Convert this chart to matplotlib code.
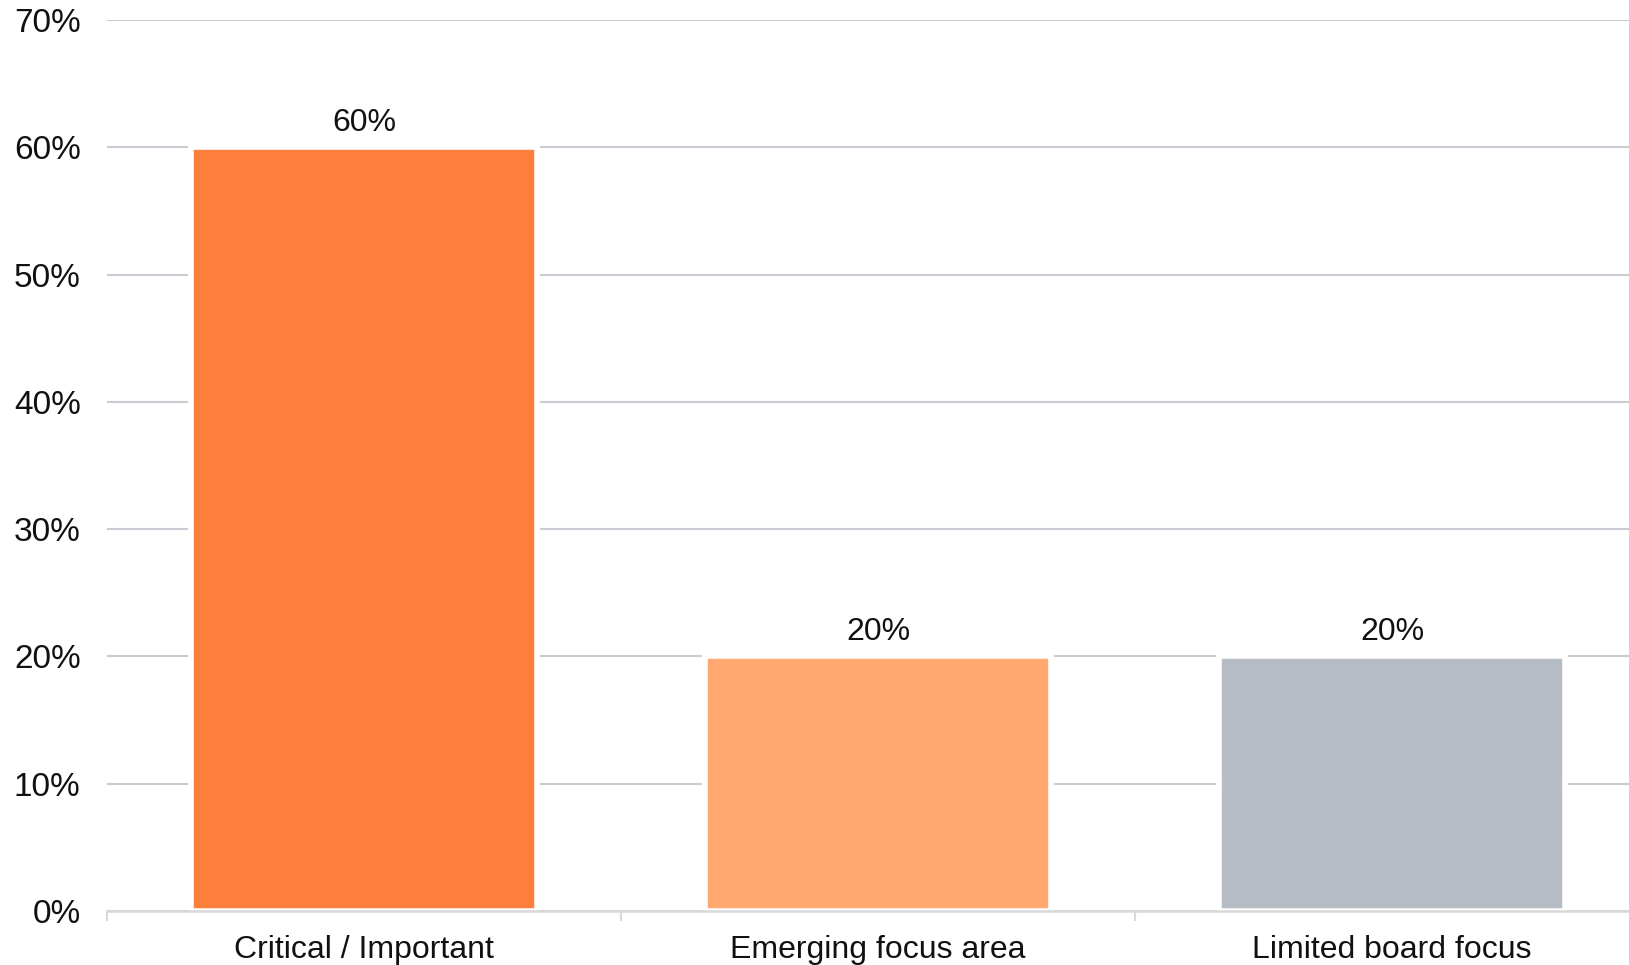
import matplotlib.pyplot as plt
from matplotlib.ticker import PercentFormatter, FixedLocator

categories = ['Critical / Important', 'Emerging focus area', 'Limited board focus']
shares = [0.60, 0.20, 0.20]
bar_colors = ['#FE7E3C', '#FFA970', '#B6BCC4']
y_ticks = [0.0, 0.1, 0.2, 0.3, 0.4, 0.5, 0.6, 0.7]

plt.rcParams['font.family'] = ['Liberation Sans', 'DejaVu Sans']

fig = plt.figure(figsize=(16.29, 9.65), dpi=100)
ax = fig.add_axes([0.0657, 0.056, 0.9466, 0.9233])

x = range(len(categories))
bars = ax.bar(x, shares, width=0.672, color=bar_colors,
              edgecolor='white', linewidth=4, zorder=3)
ax.bar_label(bars, labels=[f'{v:.0%}' for v in shares], padding=7,
             fontsize=23, color='#111111')

ax.set_xlim(-0.5, 2.5)
ax.set_ylim(0, 0.70)
ax.set_yticks(y_ticks)
ax.yaxis.set_major_formatter(PercentFormatter(1.0, decimals=0))
ax.set_xticks(list(x))
ax.set_xticklabels(categories)
ax.xaxis.set_minor_locator(FixedLocator([-0.5, 0.5, 1.5, 2.5]))

ax.grid(axis='y', color='#C9CDD3', linewidth=1.5, zorder=1)
ax.set_axisbelow(True)
for side in ['top', 'right', 'left']:
    ax.spines[side].set_visible(False)
ax.spines['bottom'].set_color('#D9D9D9')
ax.spines['bottom'].set_linewidth(1.8)
ax.spines['bottom'].set_zorder(4)

ax.tick_params(axis='y', length=0, pad=19, labelsize=24, labelcolor='#111111')
ax.tick_params(axis='x', which='major', length=0, pad=17, labelsize=23,
               labelcolor='#111111')
ax.tick_params(axis='x', which='minor', length=7, width=1.5, color='#D9D9D9')

fig.savefig('out.png', dpi=100)
